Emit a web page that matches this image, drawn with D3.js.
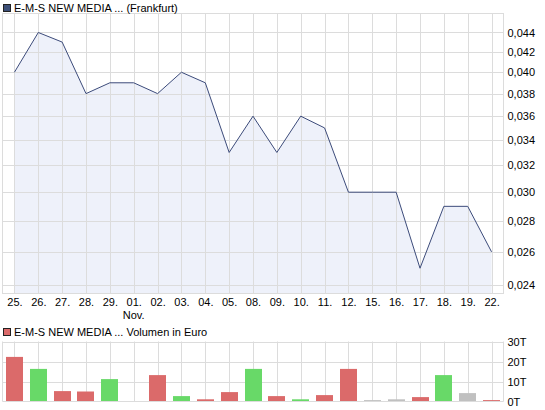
<!DOCTYPE html>
<html>
<head>
<meta charset="utf-8">
<script src="https://cdn.jsdelivr.net/npm/d3@7"></script>
<style>
  body { margin: 0; background: #fff; }
  text { font-family: "Liberation Sans", Arial, sans-serif; font-size: 11px; fill: #000; }
</style>
</head>
<body>
<div id="chart"></div>
<script>
// chart data
var dates = ["25.", "26.", "27.", "28.", "29.", "01.", "02.", "03.", "04.", "05.", "08.", "09.", "10.",
             "11.", "12.", "15.", "16.", "17.", "18.", "19.", "22."];
var prices = [0.040, 0.044, 0.043, 0.038, 0.039, 0.039, 0.038, 0.040, 0.039, 0.033, 0.036, 0.033, 0.036,
              0.035, 0.030, 0.030, 0.030, 0.025, 0.029, 0.029, 0.026];
var volumes = [22300, 16300, 5200, 5000, 11200, 0, 13200, 2700, 1100, 4700, 16300, 2700, 1100,
               3200, 16300, 700, 1100, 2200, 13200, 4200, 700];
var priceTicks = [0.024, 0.026, 0.028, 0.030, 0.032, 0.034, 0.036, 0.038, 0.040, 0.042, 0.044];
var volumeTicks = [0, 10000, 20000, 30000];

var svgWidth = 545;
var svgHeight = 410;

// plot areas
var left = 2.5, right = 503.5;
var priceTop = 13.5, priceBottom = 293.5;
var volTop = 341.5, volBottom = 401.5;

var svg = d3.select("#chart")
    .append("svg")
    .attr("width", svgWidth)
    .attr("height", svgHeight);

var x = d3.scalePoint()
    .domain(d3.range(dates.length))
    .range([left, right])
    .padding(0.5);

var y = d3.scaleLog()
    .domain([0.02353, 0.04605])
    .range([priceBottom, priceTop]);

var yVol = d3.scaleLinear()
    .domain([0, 30000])
    .range([volBottom, volTop]);

var grid = "#dcdcdc";
var fmt = function(d) { return d3.format(".3f")(d).replace(".", ","); };

// ---- price chart ----
var priceGroup = svg.append("g");

var area = d3.area()
    .x(function(d, i) { return x(i); })
    .y0(priceBottom)
    .y1(function(d) { return y(d); });

priceGroup.append("path")
    .datum(prices)
    .attr("d", area)
    .attr("fill", "#eef1fa");

// gridlines
priceGroup.selectAll("line.hgrid")
    .data(priceTicks)
    .enter()
    .append("line")
    .attr("class", "hgrid")
    .attr("x1", left).attr("x2", right)
    .attr("y1", function(d) { return Math.round(y(d)) + 0.5; })
    .attr("y2", function(d) { return Math.round(y(d)) + 0.5; })
    .attr("stroke", grid);

priceGroup.selectAll("line.vgrid")
    .data(dates)
    .enter()
    .append("line")
    .attr("class", "vgrid")
    .attr("x1", function(d, i) { return Math.round(x(i)) + 0.5; })
    .attr("x2", function(d, i) { return Math.round(x(i)) + 0.5; })
    .attr("y1", priceTop).attr("y2", priceBottom)
    .attr("stroke", grid);

var line = d3.line()
    .x(function(d, i) { return x(i); })
    .y(function(d) { return y(d); });

priceGroup.append("path")
    .datum(prices)
    .attr("d", line)
    .attr("fill", "none")
    .attr("stroke", "#3c4b7a")
    .attr("stroke-width", 1);

priceGroup.append("rect")
    .attr("x", left).attr("y", priceTop)
    .attr("width", right - left).attr("height", priceBottom - priceTop)
    .attr("fill", "none")
    .attr("stroke", grid);

// right axis labels
var priceAxis = d3.axisRight(y)
    .tickValues(priceTicks)
    .tickFormat(fmt)
    .tickSize(0)
    .tickPadding(4);

svg.append("g")
    .attr("transform", `translate(${right}, 0)`)
    .call(priceAxis)
    .call(function(g) { g.select(".domain").remove(); })
    .selectAll("text")
    .attr("font-family", "Liberation Sans, Arial, sans-serif")
    .attr("font-size", 11)
    .attr("fill", "#000");

// date labels
var dateAxis = d3.axisBottom(x)
    .tickFormat(function(i) { return dates[i]; })
    .tickSize(0)
    .tickPadding(5);

svg.append("g")
    .attr("transform", `translate(0, ${priceBottom})`)
    .call(dateAxis)
    .call(function(g) { g.select(".domain").remove(); })
    .selectAll("text")
    .attr("font-family", "Liberation Sans, Arial, sans-serif")
    .attr("font-size", 11)
    .attr("fill", "#000");

svg.append("text")
    .attr("x", x(5))
    .attr("y", 319)
    .attr("text-anchor", "middle")
    .text("Nov.");

// legend
svg.append("rect")
    .attr("x", 3.5).attr("y", 4.5).attr("width", 7).attr("height", 7)
    .attr("fill", "#3d5078").attr("stroke", "#222");
svg.append("text")
    .attr("x", 14).attr("y", 12)
    .text("E-M-S NEW MEDIA ... (Frankfurt)");

// ---- volume chart ----
var volGroup = svg.append("g");

volGroup.selectAll("line.hgrid")
    .data(volumeTicks.slice(1))
    .enter()
    .append("line")
    .attr("class", "hgrid")
    .attr("x1", left).attr("x2", right)
    .attr("y1", function(d) { return Math.round(yVol(d)) + 0.5; })
    .attr("y2", function(d) { return Math.round(yVol(d)) + 0.5; })
    .attr("stroke", grid);

volGroup.selectAll("line.vgrid")
    .data(dates)
    .enter()
    .append("line")
    .attr("class", "vgrid")
    .attr("x1", function(d, i) { return Math.round(x(i)) + 0.5; })
    .attr("x2", function(d, i) { return Math.round(x(i)) + 0.5; })
    .attr("y1", volTop).attr("y2", volBottom)
    .attr("stroke", grid);

// bar colour from the price move of the day
function barColor(i) {
  if (i === 0 || prices[i] < prices[i - 1]) return "#db6a6a";
  if (prices[i] > prices[i - 1]) return "#68d968";
  return "#c0c0c0";
}

var barWidth = 17;
volGroup.selectAll("rect.bar")
    .data(volumes)
    .enter()
    .append("rect")
    .attr("class", "bar")
    .attr("x", function(d, i) { return Math.round(x(i) - barWidth / 2); })
    .attr("y", function(d) { return yVol(d); })
    .attr("width", barWidth)
    .attr("height", function(d) { return volBottom - yVol(d); })
    .attr("fill", function(d, i) { return barColor(i); });

volGroup.append("line")
    .attr("x1", left).attr("x2", left)
    .attr("y1", volTop).attr("y2", volBottom)
    .attr("stroke", grid);
volGroup.append("line")
    .attr("x1", right).attr("x2", right)
    .attr("y1", volTop).attr("y2", volBottom)
    .attr("stroke", grid);
volGroup.append("line")
    .attr("x1", left).attr("x2", right)
    .attr("y1", volBottom).attr("y2", volBottom)
    .attr("stroke", grid);

var volAxis = d3.axisRight(yVol)
    .tickValues(volumeTicks)
    .tickFormat(function(d) { return (d / 1000) + "T"; })
    .tickSize(0)
    .tickPadding(4);

svg.append("g")
    .attr("transform", `translate(${right}, 0)`)
    .call(volAxis)
    .call(function(g) { g.select(".domain").remove(); })
    .selectAll("text")
    .attr("font-family", "Liberation Sans, Arial, sans-serif")
    .attr("font-size", 11)
    .attr("fill", "#000");

svg.append("rect")
    .attr("x", 3.5).attr("y", 328.5).attr("width", 7).attr("height", 7)
    .attr("fill", "#db6a6a").attr("stroke", "#222");
svg.append("text")
    .attr("x", 14).attr("y", 336)
    .text("E-M-S NEW MEDIA ... Volumen in Euro");
</script>
</body>
</html>
